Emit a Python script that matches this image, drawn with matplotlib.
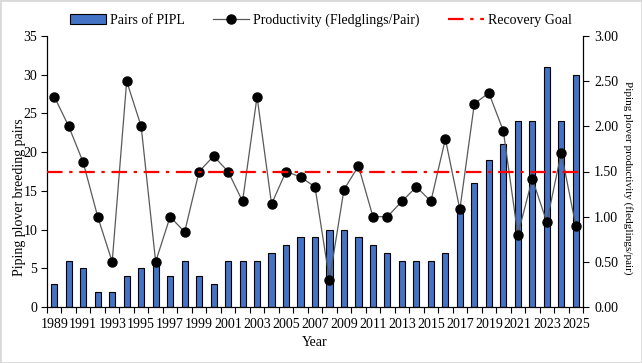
import matplotlib
matplotlib.use("Agg")
import matplotlib.pyplot as plt
import numpy as np
from matplotlib.patches import Patch
from matplotlib.lines import Line2D

years = list(range(1989, 2026))
pairs = [3, 6, 5, 2, 2, 4, 5, 6, 4, 6, 4, 3, 6, 6, 6, 7, 8, 9, 9, 10,
         10, 9, 8, 7, 6, 6, 6, 7, 13, 16, 19, 21, 24, 24, 31, 24, 30]
productivity = [2.33, 2.00, 1.60, 1.00, 0.50, 2.50, 2.00, 0.50, 1.00, 0.83,
                1.50, 1.67, 1.50, 1.17, 2.33, 1.14, 1.50, 1.44, 1.33, 0.30,
                1.30, 1.56, 1.00, 1.00, 1.17, 1.33, 1.17, 1.86, 1.08, 2.25,
                2.37, 1.95, 0.80, 1.42, 0.94, 1.71, 0.90]
recovery_goal = 1.50

plt.rcParams['font.family'] = ['Liberation Serif', 'DejaVu Serif']
plt.rcParams['font.size'] = 10

fig = plt.figure(figsize=(6.42, 3.63), dpi=100)
ax = fig.add_axes([47/642, 1 - 307/363, (583-47)/642, (307-36)/363])
x = np.arange(len(years))

ax.bar(x, pairs, width=0.42, color='#4472C4', edgecolor='black', linewidth=0.8, zorder=2)
ax.set_xlim(-0.5, len(years) - 0.5)
ax.set_ylim(0, 35)
ax.set_yticks(range(0, 36, 5))
ax.set_xticks(x[::2])
ax.set_xticklabels([str(y) for y in years[::2]])
ax.set_xticks(np.arange(-0.5, len(years), 1), minor=True)
ax.tick_params(axis='x', which='major', length=0, pad=8)
ax.tick_params(axis='x', which='minor', length=4, direction='out', width=0.8)
ax.tick_params(axis='y', length=4, direction='out', width=0.8, pad=3)
ax.spines['top'].set_visible(False)
ax.set_ylabel('Piping plover breeding pairs')
ax.yaxis.set_label_coords((26-47)/536, (307-197)/271)
ax.set_xlabel('Year')
ax.xaxis.set_label_coords(0.5, -(336-307)/271)

ax2 = ax.twinx()
ax2.plot(x, productivity, color='#595959', linewidth=0.9, marker='o',
         markersize=6.5, markerfacecolor='black', markeredgecolor='black', zorder=3)
ax2.axhline(recovery_goal, color='#FF0000', linestyle=(0, (7, 3, 1.5, 3)), linewidth=1.6, zorder=4)
ax2.set_ylim(0, 3.0)
ax2.set_yticks(np.arange(0, 3.01, 0.5))
ax2.set_yticklabels([f"{v:.2f}" for v in np.arange(0, 3.01, 0.5)])
ax2.tick_params(axis='y', length=4, direction='out', width=0.8, pad=4)
ax2.spines['top'].set_visible(False)
ax2.set_ylabel('Piping plover productivity (fledglings/pair)', rotation=270, fontsize=8)
ax2.yaxis.set_label_coords((633-47)/536, (307-178)/271)
ax2.set_xlim(-0.5, len(years) - 0.5)

handles = [Patch(facecolor='#4472C4', edgecolor='black', linewidth=0.8),
           Line2D([0], [0], color='#595959', linewidth=0.9, marker='o', markersize=6.5,
                  markerfacecolor='black', markeredgecolor='black'),
           Line2D([0], [0], color='#FF0000', linestyle=(0, (7, 3, 1.5, 3)), linewidth=1.6)]
labels = ['Pairs of PIPL', 'Productivity (Fledglings/Pair)', 'Recovery Goal']
fig.legend(handles, labels, loc='center', bbox_to_anchor=(0.5, 1 - 20/363), ncol=3,
           frameon=False, handlelength=2.6, columnspacing=2.0, handletextpad=0.3, fontsize=10)

fig.patches.append(plt.Rectangle((0, 0), 1, 1, transform=fig.transFigure, fill=False,
                                 edgecolor='#D9D9D9', linewidth=2))
fig.savefig('out.png', dpi=100)
